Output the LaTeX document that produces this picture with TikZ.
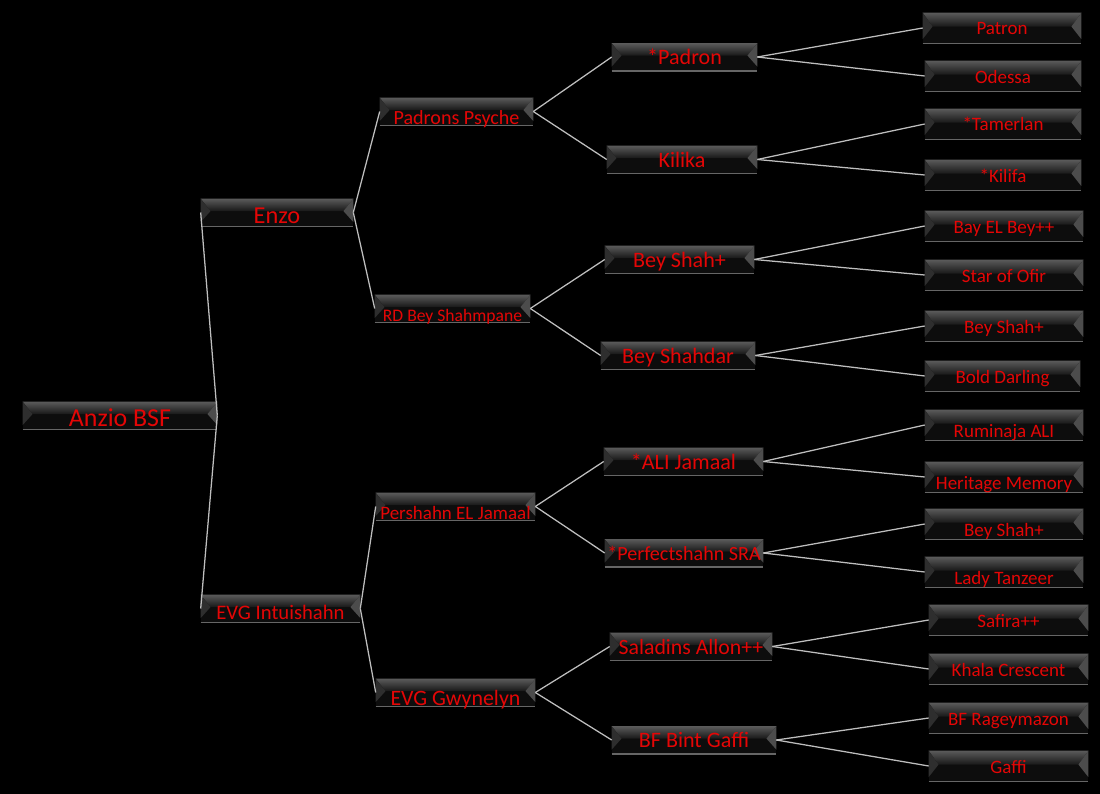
\documentclass[tikz,border=0pt]{standalone}
\usepackage{fontspec}
\setmainfont{Carlito}
\usepackage{tikz}
\usetikzlibrary{positioning}
\definecolor{pr}{RGB}{228,6,6}
\definecolor{ln}{RGB}{190,190,190}
\definecolor{bvt}{RGB}{90,90,90}
\definecolor{bvb}{RGB}{24,24,24}
\pgfdeclarelayer{bg}
\pgfdeclarelayer{bevel}
\pgfsetlayers{bg,bevel,main}

\begin{document}
\begin{tikzpicture}[
    x=0.025cm,y=-0.025cm,
    fz/.style={font=\fontsize{#1}{#1}\selectfont},
    pbox/.style={rectangle,inner sep=0pt,text=pr},
    lv0/.style={pbox,fz=18.4pt,text height=0.6cm,text depth=0.075cm},
    lv1/.style={pbox,fz=17.3pt,text height=0.6cm,text depth=0.075cm},
    lv2/.style={pbox,fz=14pt,text height=0.65cm,text depth=0.025cm},
    lv3/.style={pbox,fz=15.7pt,text height=0.525cm,text depth=0.15cm},
    lvm/.style={pbox,fz=13.5pt,text height=0.55cm,text depth=0.2cm},
    lvl/.style={pbox,fz=13.5pt,text height=0.675cm,text depth=0.075cm},
    lnk/.style={ln,line width=0.9pt},
]
% background
\begin{pgfonlayer}{bg}
\fill[black] (0,0) rectangle (1100,794);
\end{pgfonlayer}

% root
\node[lv0,minimum width=4.85cm] (anzio) at (120,415.5) {Anzio BSF};

% parents
\node[lv1,minimum width=3.8cm] (enzo) at (277,212.5) {Enzo};
\node[lv1,minimum width=3.975cm,fz=14.7pt] (evgi) at (280.5,608.5) {EVG Intuishahn};

% grandparents
\node[lv2,minimum width=3.825cm,fz=14.3pt] (padpsy) at (456.5,111.5) {Padrons Psyche};
\node[lv2,minimum width=3.875cm,fz=12.5pt] (rdbey) at (452.5,308.5) {RD Bey Shahmpane};
\node[lv2,minimum width=3.975cm,fz=13.5pt] (pershahn) at (455.5,506.5) {Pershahn EL Jamaal};
\node[lv2,minimum width=3.975cm,fz=15.6pt] (evggwy) at (455.5,692.5) {EVG Gwynelyn};

% great-grandparents
\node[lv3,minimum width=3.625cm] (padron) at (684.5,57) {*Padron};
\node[lv3,minimum width=3.75cm] (kilika) at (682,159.5) {Kilika};
\node[lv3,minimum width=3.725cm] (beyshah) at (679.5,259.5) {Bey Shah+};
\node[lv3,minimum width=3.85cm] (beyshahdar) at (678,355.5) {Bey Shahdar};
\node[lv3,minimum width=3.975cm] (alijamaal) at (683.5,461.5) {*ALI Jamaal};
\node[lv3,minimum width=3.95cm,fz=14.3pt] (perfect) at (684,553) {*Perfectshahn SRA};
\node[lv3,minimum width=4.05cm,fz=15.5pt] (saladins) at (691,646.5) {Saladins Allon++};
\node[lv3,minimum width=4.1cm] (bfbint) at (694,740) {BF Bint Gaffi};

% great-great-grandparents
\node[lvm,minimum width=3.95cm] (patron) at (1002,28) {Patron};
\node[lvm,minimum width=3.9cm] (odessa) at (1003,76) {Odessa};
\node[lvm,minimum width=3.9cm] (tamerlan) at (1003,124) {*Tamerlan};
\node[lvm,minimum width=3.9cm] (kilifa) at (1003,175) {*Kilifa};
\node[lvm,minimum width=3.95cm] (bayel) at (1004,226) {Bay EL Bey++};
\node[lvm,minimum width=3.95cm] (starofir) at (1004,275) {Star of Ofir};
\node[lvm,minimum width=3.95cm] (beyshaha) at (1004,326) {Bey Shah+};
\node[lvm,minimum width=3.875cm] (bolddarling) at (1002.5,376) {Bold Darling};
\node[lvl,minimum width=3.95cm] (ruminaja) at (1004,425) {Ruminaja ALI};
\node[lvl,minimum width=3.95cm] (heritage) at (1004,477) {Heritage Memory};
\node[lvl,minimum width=3.95cm] (beyshahb) at (1004,524) {Bey Shah+};
\node[lvl,minimum width=3.95cm] (ladytanzeer) at (1004,572) {Lady Tanzeer};
\node[lvm,minimum width=3.975cm] (safira) at (1008.5,620) {Safira++};
\node[lvm,minimum width=3.975cm] (khala) at (1008.5,669) {Khala Crescent};
\node[lvm,minimum width=3.975cm] (bfrage) at (1008.5,718) {BF Rageymazon};
\node[lvm,minimum width=3.975cm] (gaffi) at (1008.5,766) {Gaffi};

% bevelled plates under the names
\begin{pgfonlayer}{bevel}
\foreach \n in {anzio,enzo,evgi,padpsy,rdbey,pershahn,evggwy,padron,kilika,beyshah,beyshahdar,
    alijamaal,perfect,saladins,bfbint,patron,odessa,tamerlan,kilifa,bayel,starofir,beyshaha,
    bolddarling,ruminaja,heritage,beyshahb,ladytanzeer,safira,khala,bfrage,gaffi}{
  \fill[black!95] (\n.north west) rectangle (\n.south east);
  \shade[top color=bvt,bottom color=bvb]
    (\n.north west) -- (\n.north east) -- ([xshift=-7pt,yshift=1pt]\n.east) -- ([xshift=7pt,yshift=1pt]\n.west) -- cycle;
  \fill[black!70] (\n.north east) -- ([xshift=-7pt,yshift=1pt]\n.east) -- ([yshift=3pt]\n.south east) -- cycle;
  \fill[black!82] (\n.north west) -- ([xshift=7pt,yshift=1pt]\n.west) -- ([yshift=3pt]\n.south west) -- cycle;
  \draw[black!60,line width=1.1pt] (\n.south west) -- (\n.south east);
}
\end{pgfonlayer}

% links
\draw[lnk] (anzio.east) -- (enzo.west);
\draw[lnk] (anzio.east) -- (evgi.west);
\draw[lnk] (enzo.east) -- (padpsy.west);
\draw[lnk] (enzo.east) -- (rdbey.west);
\draw[lnk] (evgi.east) -- (pershahn.west);
\draw[lnk] (evgi.east) -- (evggwy.west);
\draw[lnk] (padpsy.east) -- (padron.west);
\draw[lnk] (padpsy.east) -- (kilika.west);
\draw[lnk] (rdbey.east) -- (beyshah.west);
\draw[lnk] (rdbey.east) -- (beyshahdar.west);
\draw[lnk] (pershahn.east) -- (alijamaal.west);
\draw[lnk] (pershahn.east) -- (perfect.west);
\draw[lnk] (evggwy.east) -- (saladins.west);
\draw[lnk] (evggwy.east) -- (bfbint.west);
\draw[lnk] (padron.east) -- (patron.west);
\draw[lnk] (padron.east) -- (odessa.west);
\draw[lnk] (kilika.east) -- (tamerlan.west);
\draw[lnk] (kilika.east) -- (kilifa.west);
\draw[lnk] (beyshah.east) -- (bayel.west);
\draw[lnk] (beyshah.east) -- (starofir.west);
\draw[lnk] (beyshahdar.east) -- (beyshaha.west);
\draw[lnk] (beyshahdar.east) -- (bolddarling.west);
\draw[lnk] (alijamaal.east) -- (ruminaja.west);
\draw[lnk] (alijamaal.east) -- (heritage.west);
\draw[lnk] (perfect.east) -- (beyshahb.west);
\draw[lnk] (perfect.east) -- (ladytanzeer.west);
\draw[lnk] (saladins.east) -- (safira.west);
\draw[lnk] (saladins.east) -- (khala.west);
\draw[lnk] (bfbint.east) -- (bfrage.west);
\draw[lnk] (bfbint.east) -- (gaffi.west);
\end{tikzpicture}
\end{document}
